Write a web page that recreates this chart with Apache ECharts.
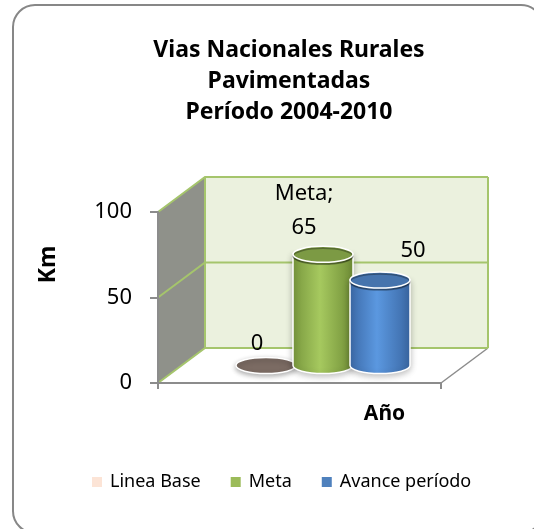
<!DOCTYPE html>
<html>
<head>
<meta charset="utf-8">
<script src="https://cdn.jsdelivr.net/npm/echarts@6/dist/echarts.min.js"></script>
<style>
  html, body { margin: 0; padding: 0; background: #fff; }
  #chart { width: 534px; height: 529px; }
</style>
</head>
<body>
<div id="chart"></div>
<script>
// data
const categories = ['']
const seriesNames = ['Linea Base', 'Meta', 'Avance período']
const seriesValues = [0, 65, 50]
const yTicks = [0, 50, 100]

// look & layout
const FONT = '"Noto Sans", sans-serif'
const DEPTH = [47, -35]            // 3d depth shift of the walls
const slotOffsets = [-57, 0, 57]   // cylinder centre offset from the category centre
const RX = 30
const RY = 8
const legendColors = ['#fce4d6', '#9bbb59', '#4f81bd']
const bodyColors = [
  { top: '#7b6b63', stops: ['#7b6b63', '#7b6b63', '#7b6b63'] },
  { top: '#7c9a44', stops: ['#78973d', '#a6c95f', '#6f8d36'] },
  { top: '#4674ad', stops: ['#3c6aa8', '#5b98e0', '#3a67a3'] },
]
const labelShift = [[-9, -22], [-19, -44], [33, -29]]
const labelText = ['0', 'Meta;\n65', '50']

const chart = echarts.init(document.getElementById('chart'), null, { renderer: 'canvas' })

function ellipsePath (cx, cy, rx, ry) {
  return 'M' + (cx - rx) + ',' + cy +
    ' A' + rx + ',' + ry + ' 0 1 0 ' + (cx + rx) + ',' + cy +
    ' A' + rx + ',' + ry + ' 0 1 0 ' + (cx - rx) + ',' + cy + ' Z'
}

function renderWalls (params, api) {
  const cs = params.coordSys
  const x0 = cs.x
  const x1 = cs.x + cs.width
  const [dx, dy] = DEPTH
  const y0 = api.coord([0, yTicks[0]])[1]
  const yTop = api.coord([0, yTicks[yTicks.length - 1]])[1]
  const wallLine = { stroke: '#a5c56c', lineWidth: 2 }
  const children = [
    // floor
    { type: 'polygon', shape: { points: [[x0, y0], [x1, y0], [x1 + dx, y0 + dy], [x0 + dx, y0 + dy]] },
      style: { fill: '#ffffff' } },
    { type: 'line', shape: { x1: x1, y1: y0, x2: x1 + dx, y2: y0 + dy },
      style: { stroke: '#8c8c8c', lineWidth: 1.5 } },
    // side wall
    { type: 'polygon', shape: { points: [[x0, y0], [x0, yTop], [x0 + dx, yTop + dy], [x0 + dx, y0 + dy]] },
      style: { fill: '#8f918a' } },
    // back wall
    { type: 'rect', shape: { x: x0 + dx, y: yTop + dy, width: x1 - x0, height: y0 - yTop },
      style: { fill: '#ebf1de' } },
  ]
  for (const t of yTicks) {
    const y = api.coord([0, t])[1]
    children.push({ type: 'polyline', shape: { points: [[x0, y], [x0 + dx, y + dy], [x1 + dx, y + dy]] },
      style: Object.assign({ fill: null }, wallLine) })
  }
  children.push({ type: 'line', shape: { x1: x0 + dx, y1: yTop + dy, x2: x0 + dx, y2: y0 + dy }, style: wallLine })
  children.push({ type: 'line', shape: { x1: x1 + dx, y1: yTop + dy, x2: x1 + dx, y2: y0 + dy }, style: wallLine })
  return { type: 'group', children: children }
}

function makeCylinder (i) {
  return function (params, api) {
    const [dx, dy] = DEPTH
    const base = api.coord([api.value(0), 0])
    const top = api.coord([api.value(0), api.value(1)])
    const cx = base[0] + slotOffsets[i] + dx / 2
    const yb = base[1] + dy / 2
    const yt = top[1] + dy / 2
    const c = bodyColors[i]
    const children = []
    if (yb - yt > 1) {
      const body = 'M' + (cx - RX) + ',' + yt + ' L' + (cx - RX) + ',' + yb +
        ' A' + RX + ',' + RY + ' 0 0 0 ' + (cx + RX) + ',' + yb +
        ' L' + (cx + RX) + ',' + yt + ' Z'
      children.push({
        type: 'path',
        shape: { pathData: body },
        style: {
          fill: new echarts.graphic.LinearGradient(0, 0, 1, 0, [
            { offset: 0, color: c.stops[0] },
            { offset: 0.45, color: c.stops[1] },
            { offset: 1, color: c.stops[2] },
          ]),
          stroke: '#ffffff',
          lineWidth: 1.5,
          shadowBlur: 6,
          shadowColor: 'rgba(0,0,0,0.25)',
          shadowOffsetY: 2,
        },
      })
    }
    children.push({
      type: 'path',
      shape: { pathData: ellipsePath(cx, yt, RX, RY) },
      style: {
        fill: c.top,
        stroke: '#ffffff',
        lineWidth: 1.5,
        shadowBlur: yb - yt > 1 ? 0 : 5,
        shadowColor: 'rgba(0,0,0,0.3)',
        shadowOffsetY: 2,
      },
    })
    children.push({
      type: 'text',
      style: {
        x: cx + labelShift[i][0],
        y: yt + labelShift[i][1],
        text: labelText[i],
        fill: '#000',
        font: '22px ' + FONT,
        align: 'center',
        verticalAlign: 'middle',
        lineHeight: 34,
      },
    })
    return { type: 'group', children: children }
  }
}

const series = [{
  type: 'custom',
  name: 'walls',
  silent: true,
  z: 1,
  renderItem: renderWalls,
  data: [[0, 0]],
}]
seriesNames.forEach((name, i) => {
  series.push({
    type: 'custom',
    name: name,
    z: 2 + i,
    itemStyle: { color: legendColors[i] },
    renderItem: makeCylinder(i),
    data: [[0, seriesValues[i]]],
  })
})

chart.setOption({
  animation: false,
  graphic: [{
    type: 'rect',
    z: -10,
    shape: { x: 13, y: 5, width: 530, height: 528, r: 22 },
    style: { fill: '#ffffff', stroke: '#878787', lineWidth: 2 },
  }],
  title: {
    text: 'Vias Nacionales Rurales\nPavimentadas\nPeríodo 2004-2010',
    left: 284,
    top: 30,
    textAlign: 'center',
    textStyle: { fontFamily: FONT, fontWeight: 'bold', fontSize: 23, lineHeight: 31, color: '#000' },
  },
  legend: {
    bottom: 33,
    left: 87,
    icon: 'rect',
    itemWidth: 10,
    itemHeight: 10,
    itemGap: 30,
    textStyle: { fontFamily: FONT, fontSize: 18, color: '#000', padding: [0, 0, 0, 3] },
    data: seriesNames,
  },
  grid: { left: 158, right: 93, top: 212, bottom: 146 },
  xAxis: {
    type: 'category',
    data: categories,
    z: 10,
    name: 'Año',
    nameLocation: 'middle',
    nameGap: 21,
    nameTextStyle: { fontFamily: FONT, fontWeight: 'bold', fontSize: 21, color: '#000', padding: [0, 0, 0, 170] },
    axisLine: { lineStyle: { color: '#8c8c8c', width: 2 } },
    axisTick: { show: true, length: 6, lineStyle: { color: '#8c8c8c', width: 2 } },
    axisLabel: { show: false },
  },
  yAxis: {
    type: 'value',
    min: 0,
    max: 100,
    interval: 50,
    z: 10,
    name: 'Km',
    nameLocation: 'middle',
    nameGap: 98,
    nameRotate: 90,
    nameTextStyle: { fontFamily: FONT, fontWeight: 'bold', fontSize: 23, color: '#000', padding: [0, 0, 0, 66] },
    axisLine: { show: true, lineStyle: { color: '#8c8c8c', width: 2 } },
    axisTick: { show: true, length: 8, lineStyle: { color: '#8c8c8c', width: 2 } },
    axisLabel: { fontFamily: FONT, fontSize: 22, color: '#000', margin: 26 },
    splitLine: { show: false },
  },
  series: series,
})
</script>
</body>
</html>
